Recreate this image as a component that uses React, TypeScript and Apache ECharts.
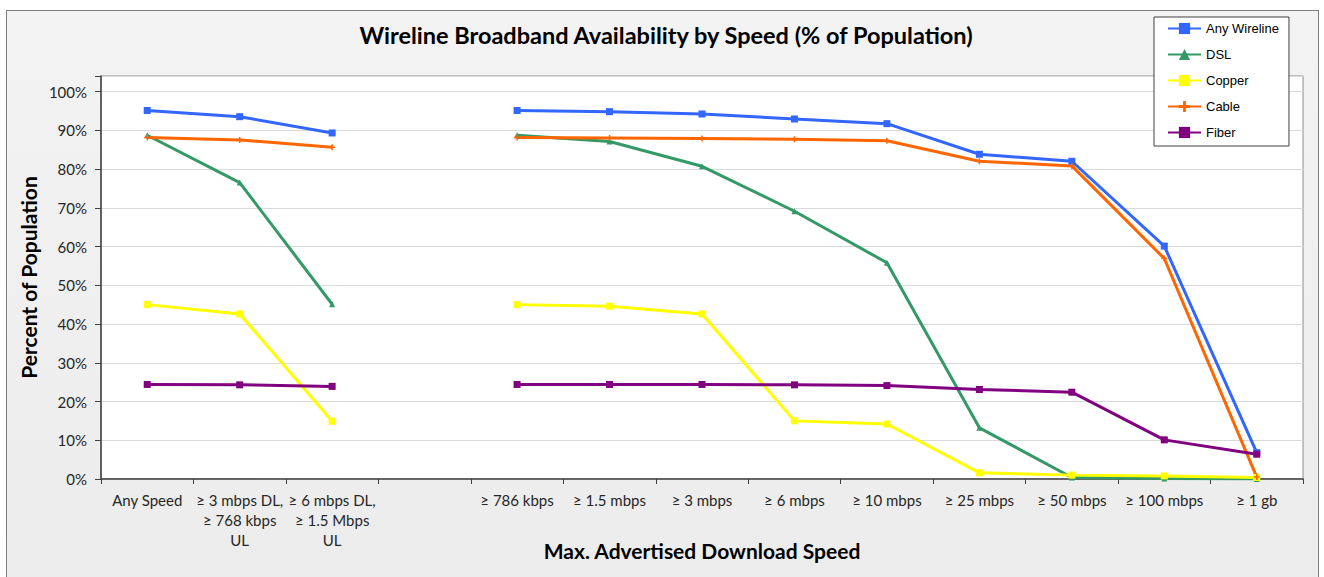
import React, { useEffect, useRef } from "react";
import * as echarts from "echarts";

const categories = [
  "Any Speed",
  "≥ 3 mbps DL,\n≥ 768 kbps\nUL",
  "≥ 6 mbps DL,\n≥ 1.5 Mbps\nUL",
  "",
  "≥ 786 kbps",
  "≥ 1.5 mbps",
  "≥ 3 mbps",
  "≥ 6 mbps",
  "≥ 10 mbps",
  "≥ 25 mbps",
  "≥ 50 mbps",
  "≥ 100 mbps",
  "≥ 1 gb",
];
const anyWireline = [95.1, 93.5, 89.3, null, 95.1, 94.8, 94.2, 92.9, 91.7, 83.8, 82.0, 60.1, 6.8];
const dsl = [88.7, 76.5, 45.1, null, 88.7, 87.1, 80.7, 69.1, 55.8, 13.2, 0.4, 0.1, 0.0];
const copper = [45.0, 42.6, 14.9, null, 45.0, 44.6, 42.6, 15.0, 14.2, 1.6, 1.0, 0.8, 0.4];
const cable = [88.1, 87.5, 85.6, null, 88.1, 88.0, 87.9, 87.7, 87.3, 82.0, 80.8, 56.9, 0.5];
const fiber = [24.4, 24.3, 23.9, null, 24.4, 24.4, 24.4, 24.3, 24.1, 23.1, 22.4, 10.1, 6.4];
const yTicks = [0, 10, 20, 30, 40, 50, 60, 70, 80, 90, 100];

const seriesDefs = [
  { name: "Any Wireline", data: anyWireline, color: "#3366FF", symbol: "rect", size: 7 },
  { name: "DSL", data: dsl, color: "#339966", symbol: "triangle", size: 6 },
  { name: "Copper", data: copper, color: "#FFFF00", symbol: "rect", size: 7 },
  { name: "Cable", data: cable, color: "#FF6600", symbol: "path://M3,0H5V3H8V5H5V8H3V5H0V3H3Z", size: 6 },
  { name: "Fiber", data: fiber, color: "#800080", symbol: "rect", size: 7 },
];

const FONT = "Lato, 'Open Sans', sans-serif";

export default function App() {
  const ref = useRef<HTMLDivElement>(null);
  useEffect(() => {
    if (!ref.current) return;
    const chart = echarts.init(ref.current, null, { renderer: "svg" });
    chart.setOption({
      animation: false,
      graphic: [
        {
          type: "text",
          x: 666,
          y: 35,
          style: {
            text: "Wireline Broadband Availability by Speed (% of Population)",
            font: `bold 23.5px ${FONT}`,
            fill: "#000",
            textAlign: "center",
            textVerticalAlign: "middle",
          },
        },
      ],
      grid: {
        left: 101,
        right: 21,
        top: 76,
        bottom: 98,
        outerBoundsMode: "none",
        containLabel: false,
        show: true,
        backgroundColor: "#ffffff",
        borderColor: "#8c8c8c",
        borderWidth: 1,
      },
      legend: {
        orient: "vertical",
        left: 1154,
        top: 17,
        backgroundColor: "#ffffff",
        borderColor: "#404040",
        borderWidth: 1,
        borderRadius: 0,
        padding: [5, 10, 7, 13],
        itemWidth: 33,
        itemHeight: 14,
        itemGap: 13,
        textStyle: { fontFamily: "'Liberation Sans', Arial, sans-serif", fontSize: 13, color: "#000" },
        data: seriesDefs.map((s) => s.name),
      },
      xAxis: {
        type: "category",
        data: categories,
        boundaryGap: true,
        axisLine: { lineStyle: { color: "#404040", width: 1.5 } },
        axisTick: { show: true, alignWithLabel: false, interval: 0, length: 5, lineStyle: { color: "#404040" } },
        axisLabel: {
          interval: 0,
          margin: 11,
          fontFamily: FONT,
          fontSize: 15,
          lineHeight: 20,
          color: "#262626",
          align: "center",
        },
        splitLine: { show: false },
        name: "Max. Advertised Download Speed",
        nameLocation: "middle",
        nameGap: 61,
        nameMoveOverlap: false,
        nameTextStyle: { fontFamily: FONT, fontWeight: "bold", fontSize: 21, color: "#000" },
      },
      yAxis: {
        type: "value",
        min: 0,
        max: 104,
        interval: 10,
        axisLine: { show: true, lineStyle: { color: "#404040", width: 1.5 } },
        axisTick: { show: true, length: 6, lineStyle: { color: "#404040" } },
        axisLabel: {
          margin: 14,
          fontFamily: FONT,
          fontSize: 15,
          color: "#262626",
          formatter: (v: number) => (yTicks.includes(Math.round(v)) && v <= 100 ? `${v}%` : ""),
        },
        splitLine: { show: true, lineStyle: { color: "#d9d9d9", width: 1 } },
        name: "Percent of Population",
        nameLocation: "middle",
        nameGap: 62,
        nameMoveOverlap: false,
        nameTextStyle: { fontFamily: FONT, fontWeight: "bold", fontSize: 21, color: "#000" },
      },
      series: seriesDefs.map((s) => ({
        name: s.name,
        type: "line",
        data: s.data,
        connectNulls: false,
        symbol: s.symbol,
        symbolSize: s.size,
        showSymbol: true,
        color: s.color,
        lineStyle: { color: s.color, width: 3 },
        itemStyle: { color: s.color },
      })),
    });
    return () => chart.dispose();
  }, []);
  return (
    <div style={{ position: "fixed", left: 0, top: 0, width: 1324, height: 577, background: "#fff", overflow: "hidden" }}>
      <div
        style={{
          position: "absolute",
          left: 6,
          top: 10,
          width: 1313,
          height: 580,
          border: "1px solid #7f7f7f",
          background: "linear-gradient(180deg, #f3f3f3 0%, #ececec 100%)",
          boxSizing: "border-box",
        }}
      />
      <div ref={ref} style={{ position: "absolute", left: 0, top: 0, width: 1324, height: 577 }} />
    </div>
  );
}
